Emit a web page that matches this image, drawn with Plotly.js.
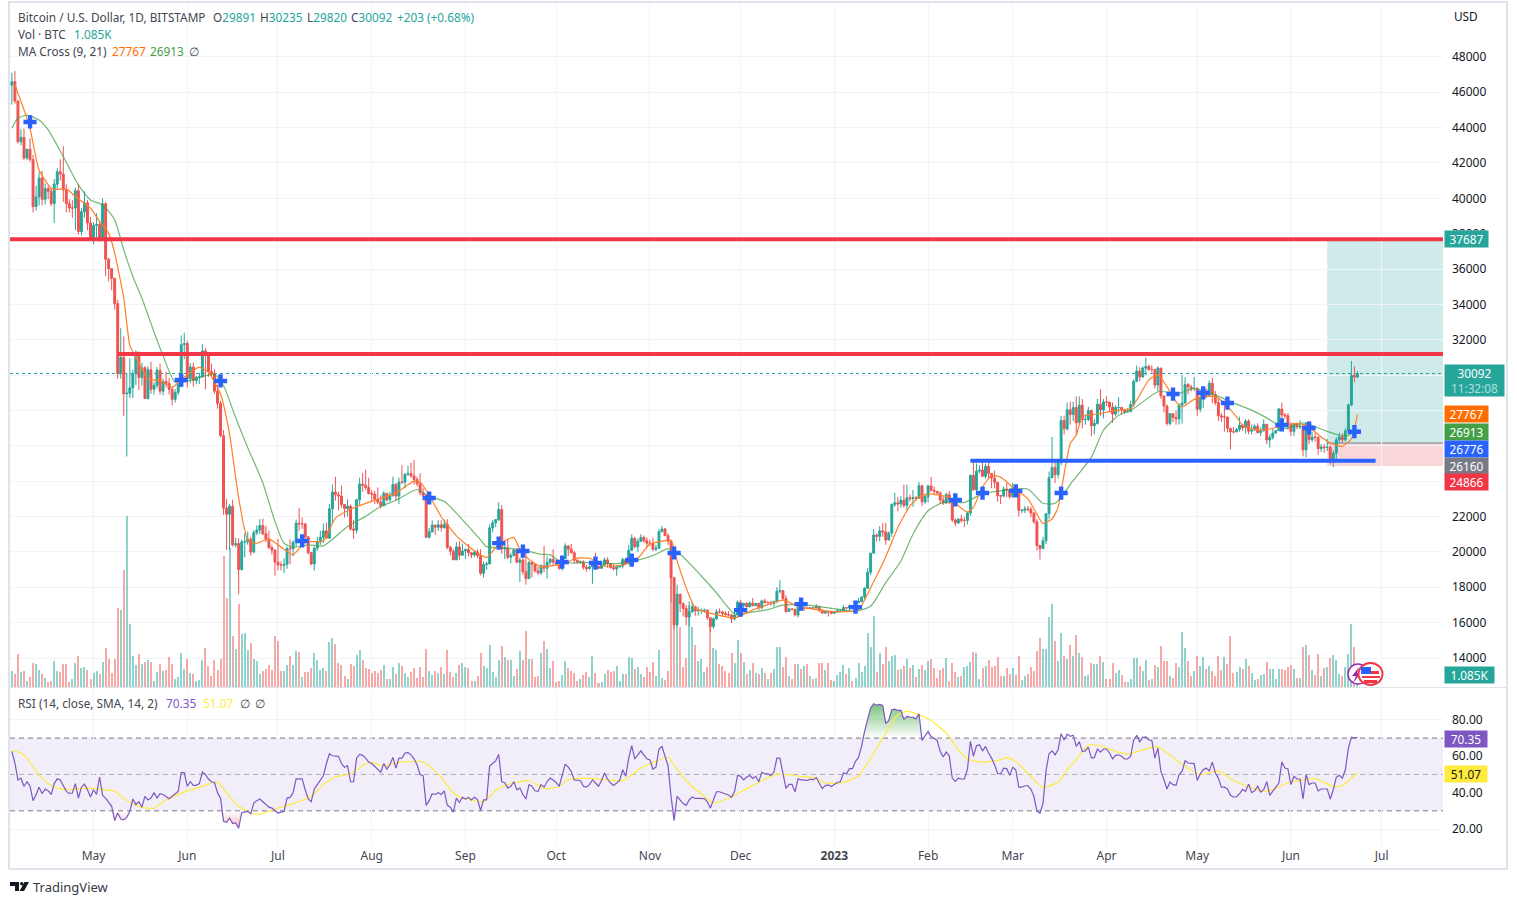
<!DOCTYPE html>
<html><head><meta charset="utf-8">
<script src="https://cdn.plot.ly/plotly-3.0.1.min.js"></script>
<style>html,body{margin:0;padding:0;background:#fff}#c{width:1517px;height:905px}</style></head>
<body><div id="c"></div>
<script>
const startDay = Date.UTC(2022,3,4);
const firstOpen = 46400;
const closes = [
46600,45500,43200,43450,42280,42780,42200,39530,40080,41150,39940,40550,40400,39700,40800,41500,41370,40480,39700,39450,39450,40430,38120,39240,39740,38600,37640,
38470,38520,37730,39690,36550,36020,35470,34040,30080,31000,28940,28980,29280,30080,31300,29860,30420,28680,30300,29200,29430,30280,29090,29640,29540,29190,28630,29020,29450,31720,31790,
29800,30460,29690,29860,29900,31370,31130,30200,30100,29090,28400,26570,22480,22130,22580,20400,20470,19000,20560,20570,20720,19990,21090,21240,21490,21030,20730,20250,20100,19420,
19270,19240,19300,20200,20180,20550,21630,21590,21590,20850,19960,19320,20210,20570,20830,21190,20780,22440,23380,23230,23160,22680,22450,22580,21300,21230,22950,23840,23770,23640,23300,
23270,22980,22820,22610,23310,22950,23170,23810,23160,23950,23940,24400,24440,24300,24100,23850,23340,23210,20830,21140,21520,21400,21530,21370,21570,20260,20040,19550,20280,19810,20050,
20130,19950,19830,19990,19800,18790,19290,19320,21360,21650,21830,22400,20170,20230,19700,19800,20110,19420,19540,18880,18490,19400,19300,18920,18810,19220,19080,19410,19590,19420,
19310,19060,19630,20340,20160,19960,19530,19420,19440,19130,19060,19160,19380,19180,19070,19260,19550,19330,19120,19040,19160,19200,19570,19330,20090,20770,20290,20600,20820,20630,20490,
20480,20150,20210,21150,21300,20920,20600,18540,15880,17600,17070,16800,16320,16620,16900,16660,16690,16690,16700,16280,15780,16220,16610,16600,16520,16460,16430,16210,16430,17160,
16970,17090,16890,17110,16970,17090,16840,17230,17130,17130,17090,17200,17780,17810,17350,16630,16780,16740,16440,16900,16830,16830,16800,16840,16830,16920,16700,16540,16630,16600,16530,
16610,16670,16670,16850,16830,16950,16940,17120,17190,17440,17940,18850,19930,20950,20880,21190,21130,20670,21070,22680,22780,22710,22920,22630,23060,23010,23070,23030,23740,22830,23130,
23730,23490,23430,23330,22940,22760,23240,22960,21800,21630,21860,21780,21780,22200,24330,23520,24570,24630,24280,24840,24440,24180,23940,23190,23160,23560,23490,23130,
23630,23470,22350,22360,22430,22410,22200,21700,20360,20190,20630,22160,24200,24770,24370,25050,27430,26960,28040,27770,28170,27310,28300,27480,27490,28000,27140,27270,28350,28030,28480,
28470,28200,27800,28170,28170,28040,27920,27950,28340,29650,30230,29900,30400,30490,30320,30320,29440,30400,28820,28250,27270,27820,27600,27520,28310,28420,29470,29330,29240,29250,
28070,28680,29030,28850,29540,28900,28450,27700,27630,27630,26990,26800,26790,26930,27170,27030,27400,26830,26890,27110,26750,26850,27220,26330,26480,26720,26860,28080,27750,27700,27220,
26820,27250,27070,27120,25770,27240,26350,26500,26480,25850,25940,25900,25920,25120,25580,26340,26510,26340,26850,28310,29990,29891,30092];
const highs = [
47100,47200,45550,43900,43950,42800,43400,42450,40700,41500,41550,40850,40700,40600,41100,41700,42200,42950,40800,39950,39900,40600,40800,39450,40400,39900,38950,
38650,39150,38650,40000,39800,36650,36050,35500,34250,32650,32200,30100,30950,30300,31400,31300,30700,30500,30500,30750,29600,30450,30650,29800,30180,29830,29350,29200,29550,32250,32400,
31950,30670,30700,29950,30130,31750,31550,31300,30650,30350,29450,28550,26890,23000,22700,22950,20800,20770,20700,21050,21150,20860,21220,21500,21860,21880,21470,21200,20400,20150,
20750,19450,19650,20300,20700,20650,21830,22500,21950,21600,20900,20000,20300,20850,21200,21600,21650,22700,23800,24250,23400,23750,22650,22980,22680,21800,23000,24200,24450,24650,24200,
23500,23450,23650,23200,23450,23350,23400,24250,23900,24200,24900,24450,24880,25050,25200,24250,24450,23600,23200,21350,21780,21500,21800,21800,21820,21850,20350,20150,20550,20600,20470,
20200,20450,20000,20050,20150,20150,19450,19450,21550,21800,21850,22800,22650,20550,20700,19950,20180,20100,19680,19650,19950,19500,19500,19300,19150,19300,20350,19750,19650,20150,
19480,19400,19700,20480,20380,20450,20050,19600,19520,19520,19260,19220,19500,19950,19200,19420,19680,19700,19350,19300,19250,19250,19680,19600,20400,21000,20850,20750,21000,20930,20830,
20700,20800,20400,21300,21480,21350,21050,20700,18600,18150,17650,17150,17000,17200,17150,16950,16900,16800,16800,16750,16280,16300,16750,16800,16680,16650,16650,16500,16600,17250,
17300,17100,17150,17200,17400,17100,17130,17300,17350,17230,17250,17250,18000,18400,17850,17550,16800,16800,16800,17050,16900,16900,16850,16870,16900,17050,16950,16770,16650,16650,16620,
16630,16780,16770,17000,16880,17030,16960,17220,17400,17500,18000,19100,19950,21300,21050,21450,21630,21650,21150,22750,23350,23100,23150,23800,23800,23250,23500,23160,23950,23800,23300,
23800,24250,23700,23450,23430,23150,23350,23450,23020,21900,21900,22100,21980,22300,24380,25250,25000,24900,25150,25000,25250,24300,24600,23950,23200,23700,23900,23600,
23900,23800,23480,22420,22600,22600,22550,22250,21850,20350,20850,22200,24550,26500,25250,25200,27700,27700,28450,28500,28500,28800,28800,28650,27800,28200,28050,27500,28650,29200,28650,
28800,28500,28450,28300,28750,28200,28100,28150,28550,29750,30550,30450,30500,31000,30600,30550,30350,30480,30400,28750,28350,27850,27800,28000,28400,30000,29880,29550,29450,29900,
29300,28900,29250,29250,29700,29850,29100,28650,27850,28350,27650,27000,27050,27000,27650,27250,27500,27500,27200,27200,27280,27050,27500,27200,26650,26950,26900,28150,28450,27850,27850,
27330,27300,27320,27450,27150,27350,27400,26800,26750,26550,26100,26100,26400,26050,25750,26500,26750,26700,27000,28400,30800,30500,30235];
const lows = [
45300,45350,43100,43000,42150,42150,42050,39200,39300,39600,39600,39650,39950,39550,38600,40550,41000,39800,39200,39200,38900,38200,37950,37900,38900,38200,37600,
37400,37700,37550,37600,35600,35300,34800,33700,29800,29800,27700,25400,28700,28700,29450,29150,29400,28650,28620,28950,28900,29250,28900,28850,29300,28900,28300,28450,28850,29300,30900,
29300,29550,29350,29500,29500,29850,29200,29900,29950,28950,28100,26500,22100,20100,20100,20300,20250,17600,18950,19700,20400,19800,19950,20950,21000,20950,20550,20170,19850,18650,
18950,18950,18800,19050,19300,19750,20300,21200,21300,20650,19850,19250,18950,20050,20400,20500,20750,20750,21600,22900,22350,22500,21950,22000,21200,20750,21050,22600,23400,23500,23250,
22850,22700,22700,22450,22600,22850,22850,23150,22900,22700,23850,23600,24300,24200,23800,23700,23200,23100,20800,20750,21080,20950,21200,21150,21320,20150,19800,19550,19550,19550,19850,
19600,19750,19650,19700,19650,18680,18550,19000,19300,21100,21400,21750,19900,19600,19600,19350,19750,19350,18300,18700,18150,18500,18550,18850,18700,18700,18850,18500,19250,19200,
19200,19000,18950,19600,19750,19900,19350,19330,19330,19000,18880,19000,18200,19100,19050,19050,19180,19100,19050,18950,18650,19100,19080,19250,19300,20050,20200,20000,20550,20520,20250,
20350,20050,20050,20170,21100,20900,20400,17150,15650,15800,16600,16350,15850,15800,16550,16400,16400,16500,16550,16150,15500,15650,16150,16500,16350,16400,16350,15980,16120,16400,
16880,16800,16880,16880,16900,16920,16700,16750,17100,17100,16950,16900,17100,17650,17300,16550,16600,16700,16350,16300,16680,16650,16780,16800,16750,16800,16600,16500,16500,16350,16480,
16500,16550,16610,16650,16750,16680,16900,16900,17130,17150,17300,17900,18700,19950,20600,20600,20850,20400,20650,20850,22550,22300,22500,22500,22350,22850,22550,22900,23000,22600,22700,
22800,23400,23200,23250,22750,22650,22750,22700,21700,21450,21600,21650,21400,21550,22050,23450,23350,24450,24250,24150,24150,23600,23600,22850,22700,23100,23100,23000,
23050,23250,22000,22200,22200,22300,21950,21600,20080,19570,20250,20450,21850,24200,23900,24150,24900,26650,26850,27200,27400,26650,27200,27000,27200,27400,26550,26650,27200,27700,27550,
28250,27900,27300,27700,27850,27750,27800,27850,27900,28200,29600,29650,29850,30000,30250,30150,29250,29100,28650,27900,27150,27150,27350,27200,27200,27250,28400,28900,29080,29100,
27700,27900,28150,28700,28850,28400,28300,27400,27350,26800,26750,25800,26700,26850,26800,26850,26700,26650,26650,26850,26700,26550,26800,26100,25900,26350,26700,26850,27550,27550,26900,
26550,26550,26950,26950,25400,25350,26100,26200,26250,25500,25650,25600,25700,24950,24800,25200,26150,26150,26250,26650,28250,29600,29820];
const volumeK = [
4.8,4.0,10.0,4.6,4.8,1.8,3.1,7.3,7.0,5.2,4.0,2.7,1.6,1.8,7.9,4.9,4.6,7.0,7.0,1.5,2.5,7.3,9.4,5.8,6.1,5.2,2.5,
4.3,4.9,4.0,7.6,11.8,8.5,4.3,8.5,23.8,23.2,35.1,51.3,19.0,9.4,6.7,10.0,7.0,7.6,8.2,7.6,1.8,4.6,7.0,4.9,5.2,9.1,7.0,2.5,3.1,10.3,5.5,
8.5,4.3,4.0,1.8,2.2,8.2,11.8,6.4,3.4,8.2,5.2,8.5,39.3,26.7,41.7,15.3,11.5,24.9,16.0,16.3,11.2,13.3,8.5,7.9,4.0,4.9,5.5,6.7,5.2,15.4,
13.9,4.9,4.9,6.7,9.4,6.7,10.9,10.6,3.1,4.6,4.6,5.8,10.3,8.2,5.2,5.8,4.9,13.6,14.8,13.0,7.3,6.7,3.4,2.5,7.0,6.4,9.7,11.2,8.2,5.8,5.5,
4.3,4.9,4.3,5.2,6.7,2.5,2.5,6.1,4.0,7.3,6.4,4.3,3.1,4.6,5.8,2.8,6.1,3.1,11.5,4.9,3.7,4.9,4.3,6.1,4.0,11.2,4.6,3.1,4.3,6.7,7.3,
6.1,5.8,1.8,1.8,3.4,10.3,6.4,5.8,12.7,4.6,3.1,8.2,12.4,9.1,8.2,8.2,3.4,5.5,10.9,8.2,16.9,8.5,8.5,3.1,3.4,10.3,13.9,11.5,5.8,7.9,
1.6,1.9,3.7,7.9,5.8,4.9,4.3,1.9,2.5,3.7,4.6,3.1,9.4,4.3,1.3,1.6,4.0,5.2,4.6,4.9,6.4,1.9,4.0,4.0,9.1,8.8,5.5,6.1,4.0,3.1,6.1,
4.6,7.6,3.4,11.2,2.8,2.2,4.9,33.0,33.0,18.6,17.9,6.0,8.8,24.5,17.9,12.7,7.9,8.5,4.6,6.1,17.9,11.6,11.0,7.0,6.4,4.9,4.3,10.3,7.3,14.2,
10.3,7.6,4.0,5.2,7.3,4.3,4.0,5.8,4.3,2.5,4.3,5.5,12.1,12.1,6.1,9.1,3.4,2.5,7.0,7.0,5.5,6.4,7.0,3.4,2.5,2.8,7.3,7.3,5.2,7.3,2.2,
1.9,3.7,4.6,6.7,4.0,5.8,1.9,2.8,7.3,4.6,6.4,16.3,12.1,21.4,4.6,10.3,7.0,12.1,7.9,9.4,9.7,5.2,5.5,6.4,8.5,5.8,6.7,3.1,5.5,6.7,5.2,
7.9,8.5,5.8,2.8,5.2,5.8,8.8,1.9,7.3,4.6,3.1,3.4,6.1,6.4,7.6,10.6,10.3,2.5,5.8,6.4,8.2,6.1,6.4,9.1,3.4,3.4,5.8,4.0,
5.8,3.7,9.4,2.2,3.4,4.0,6.1,4.9,10.9,14.8,11.5,11.5,21.1,25.0,13.9,7.9,16.3,9.4,8.5,12.7,9.4,15.7,10.3,9.1,3.4,3.7,7.3,7.0,7.0,9.4,7.6,
2.5,2.5,7.3,4.3,5.2,3.7,1.6,1.6,2.5,8.8,8.8,6.4,4.9,8.2,2.2,2.5,6.7,6.1,12.4,7.9,7.9,3.4,2.8,7.3,6.1,16.6,11.8,7.9,3.4,4.9,
9.4,6.4,9.1,5.5,6.4,4.9,3.4,9.4,5.2,9.1,7.0,15.4,4.3,4.6,6.1,5.5,8.5,6.4,4.3,2.2,2.5,3.7,4.0,7.6,5.5,5.5,2.5,5.5,5.5,5.2,6.1,
6.7,5.5,2.8,2.8,12.1,12.7,9.7,5.2,3.7,10.0,3.4,5.8,6.1,8.8,9.7,8.2,4.0,3.4,6.1,10.0,19.0,12.1,1.085];
const rsi = [
62.7,56.3,47,48,43.5,46,43.5,35.6,39,43,39.5,42,41,39,45,47.6,47,43.5,40.7,39.6,39.8,45,37,43,44.7,41.6,37.6,
41.6,39,48.6,38.5,37,34.6,32.5,24.6,28.8,25.5,25,26.4,29.7,36.5,33.4,35,32,38,36,37,40,37,39.4,39,38,36.7,38,39.5,40.7,51,51,
43.5,46,44,44,45,51.3,50,47.5,46,45.6,40,37,24.2,23.7,26,23,23.3,20.5,29,29.3,29.7,28.4,34.3,35.6,36.5,35,33.4,32,31.5,30.3,
28.8,29.3,29.7,37,37.4,40,47.6,47.6,47.6,41.6,36.5,35,42,44.4,47,49.3,55.9,61.4,60.3,60,60,56,54,54.8,46,46,59,61,60.5,59,56.8,
56,54.4,53,51.3,56,53,55.3,59.4,53.5,59,59,61.8,62,60.8,58.6,55.3,50,49.3,33,35.6,39.4,39,40,39,41,33,32,29.3,37,34.6,37.4,
36.5,37.4,36,37.6,36,30.3,36,36,54.8,56,57.5,61,46,45.5,42.5,43.5,46,41.6,42.5,39,36.5,44.4,43.5,41,40.7,44.4,43,46,48,47,
45.6,43.5,50,55.7,54,51.6,47,47,46.7,43.5,43,44.4,47,45.3,43.5,46.7,50.8,47.5,45.3,44,45.3,46.7,52.6,49,59,65.8,58.5,60.8,63,60.8,58.6,
58,53,54,64,65.4,60,54.8,38,24.6,38,35.7,34,33,36,37.6,36.8,36.8,36.8,36.7,35,31.5,36,40.5,40.5,40,39.4,38.7,37.4,40.7,49.5,
49,47,48.6,49.4,47.8,49,46,51.2,50.3,50.3,49.4,51.2,59,59,51.2,42.4,44.6,44.6,40.5,47.6,47,46.7,46.7,47.4,47,48.3,45.2,42.3,43.9,44.3,43.4,
44.4,45.6,46,50.8,50.4,53.2,53.2,57.2,59.4,65.4,73.7,81,86.5,88.9,88.1,88.5,87.9,78,79.7,85.6,85.9,85.2,85.2,80.4,81.9,81.5,81.4,80.6,83.4,68.7,70.9,
73.7,70.9,69.6,68.7,62.7,59.6,62.3,60.3,48,46.2,48,47.5,47.5,52.6,68.2,60,65.8,66.3,63,65.4,61.8,59,55.3,50.4,50.4,53.5,53.2,49.5,
54,52.6,43,43,43.8,43.8,42,38,29.7,28.8,34,52,61.4,63,60.8,63.6,72.4,69,72.2,71,71.6,65.4,68,62.7,63,65,59,59.4,64,62.3,64,
64,61.8,58.6,60.5,60.8,60,58.5,58.5,60,69,71.5,68,70.4,70.7,69,68.7,59,64.5,51.7,47,42,45.8,44.4,44,50,51.7,57.5,56.3,56,56,
46.7,50.2,52.6,53.5,52,56.8,50.8,48,43,43,42,38.5,37.6,37.6,39.4,41.8,40.7,44.7,40,41,43.5,40.3,41.6,46,38.5,40.7,43.5,45.3,56.8,53.5,53,
44.4,49,47.5,47.5,36.5,50,44.4,45.3,45.3,41,42,42,42,36.5,41.6,48.4,49.5,48,52.6,64.5,70.5,70,70.35];
const rsiMaDay = [0,3,5,8,10,14,19,24,29,34,37,40,43,47,51,58,62,68,71,75,79,82,88,92,99,103,107,112,118,123,128,136,142,146,150,156,161,166,171,176,181,184,189,197,202,208,213,217,219,224,229,232,238,245,253,261,266,269,275,280,284,288,293,296,300,304,309,313,316,321,327,329,332,337,341,346,349,352,356,360,365,369,374,379,383,388,393,399,404,413,416,422,431,437,440,445];
const rsiMaVal = [63.2,61.8,59,51.7,48,43,41.6,42.5,42,40.7,37,33.9,31.9,31.5,36,41,42.9,45.8,39.8,32.5,28.8,28.2,31.5,33.4,38,44.4,48.6,50.4,56.6,54.8,56.6,56.8,48.6,39.8,36.7,35.2,42.5,45.3,46.7,42.3,43.4,47.1,48,47.1,46.6,53.5,57.2,59.6,55,44.9,38,34.3,37.6,44,50.2,48.9,48,45.3,45.6,49.3,59,70,82.8,84.7,82.8,79.7,72.7,63.6,58.5,56.8,58.1,59.4,57.2,48.9,42.9,45.8,52.6,58.1,66,65.8,62.7,61.2,63.6,65.1,60.8,54.4,49.9,52,46.7,41,41,45.3,47.7,43.4,43.8,51.07];
const ma21Day = [0,2,5,9,12,17,22,26,30,34,37,40,43,47,50,54,59,62,67,70,74,78,83,87,90,93,98,103,111,117,122,127,134,138,143,148,155,157,164,168,175,178,182,191,200,208,213,217,221,228,233,239,243,250,255,263,274,279,284,289,294,298,303,308,315,321,329,336,341,345,351,357,361,366,371,379,386,391,398,405,410,415,421,427,434,439,442,445];
const ma21Val = [43960,44530,44700,44430,43870,42360,40760,39910,39630,38780,37080,35580,34350,32440,31100,29590,29700,29880,30030,29400,27600,25900,23900,21720,20490,20260,20400,20340,21440,22010,22580,22920,23530,23150,22860,22010,20680,20300,20200,20150,19870,19830,19400,19400,19340,19580,19870,20190,19870,18640,17690,16500,16550,16740,16990,16990,16740,16640,16930,18260,19490,21000,22330,22800,22800,23280,23500,23560,22750,22750,24040,25360,26880,27730,28110,29060,28970,29250,28870,28360,28020,27580,26980,27300,26880,26600,26600,26913];
const ma9Day = [1,4,6,9,13,15,18,21,26,29,32,34,37,39,41,45,49,53,57,62,65,69,72,75,78,81,85,91,93,97,103,107,113,119,127,133,135,138,142,147,153,157,161,166,168,171,175,180,184,186,191,196,202,207,211,218,220,223,226,233,239,244,250,255,260,266,274,280,284,289,293,297,300,303,310,313,316,318,321,324,327,331,336,339,341,344,346,348,350,352,354,360,366,370,373,376,379,382,385,387,391,394,398,401,405,407,411,415,419,424,428,433,436,440,443,445];
const ma9Val = [46410,45000,43960,41600,40570,40510,40530,40100,39440,38690,38030,36900,34350,31680,31010,29780,29690,29310,29880,30450,30160,28930,26650,23050,20680,20490,20740,20020,19830,20550,20620,21910,22480,22860,23340,24000,23950,23200,21990,20910,20060,19680,20440,20820,20150,19580,19150,19260,19400,19640,19640,19200,19260,19640,20440,20630,19490,17970,16830,16450,16260,16640,17020,17270,16930,16740,16610,16740,17970,19730,21380,22600,23090,23280,23090,22620,22240,22520,23660,24320,24230,23660,23000,22140,21610,21860,22520,24420,26120,26600,27640,27830,28020,28110,28870,29730,30010,29350,28490,28210,28630,28780,28780,28400,27640,27170,26920,26920,27070,27260,27170,26500,26160,25970,26400,27767];
const crossDay = [6,56,69,96,138,161,169,182,193,205,219,241,261,279,312,321,332,347,384,394,402,420,429,444];
const crossPrice = [44320,29720,29670,20620,23050,20500,20050,19430,19370,19540,19940,16710,17050,16880,22940,23330,23450,23330,28930,29000,28420,27180,27010,26800];
const resistanceUpper = 37687, resistanceLower = 31200, supportLevel = 25150;
const entryPrice = 26160, targetPrice = 37687, stopPrice = 24866, lastPrice = 30092;
const monthTicks = ['2022-05-01','2022-06-01','2022-07-01','2022-08-01','2022-09-01','2022-10-01','2022-11-01','2022-12-01','2023-01-01','2023-02-01','2023-03-01','2023-04-01','2023-05-01','2023-06-01','2023-07-01'];
const monthLabels = ['May','Jun','Jul','Aug','Sep','Oct','Nov','Dec','<b>2023</b>','Feb','Mar','Apr','May','Jun','Jul'];
const priceTicks = [14000,16000,18000,20000,22000,24000,26000,28000,30000,32000,34000,36000,38000,40000,42000,44000,46000,48000];
const priceTicksHiddenByTags = [24000,26000,28000,30000];
const rsiTicks = [20,40,60,80];

const W=1517,H=905;
const px=x=>x/W, py=y=>1-y/H;
const dayDate=d=>new Date(startDay+d*864e5).toISOString().slice(0,10);
const dates=closes.map((_,i)=>dayDate(i));
const opens=closes.map((c,i)=>i?closes[i-1]:firstOpen);
const UP='#26a69a',DOWN='#ef5350';
const FONT='"Noto Sans",sans-serif', TXT='#434651';

const traces=[
 {type:'bar',x:dates,y:volumeK,yaxis:'y',xaxis:'x',width:2*864e5/3.0235,
  marker:{color:closes.map((c,i)=>c>=opens[i]?'rgba(38,166,154,.5)':'rgba(239,83,80,.5)'),line:{width:0}},hoverinfo:'skip'},
 {type:'candlestick',x:dates,open:opens,high:highs.map((h,i)=>Math.max(h,opens[i],closes[i])),low:lows.map((l,i)=>Math.min(l,opens[i],closes[i])),close:closes,yaxis:'y2',xaxis:'x',whiskerwidth:0,
  increasing:{line:{color:UP,width:1},fillcolor:UP},decreasing:{line:{color:DOWN,width:1},fillcolor:DOWN},hoverinfo:'skip'},
 {type:'scatter',mode:'lines',x:ma21Day.map(dayDate),y:ma21Val,yaxis:'y2',xaxis:'x',line:{color:'rgba(67,160,71,.75)',width:1.2,shape:'spline',smoothing:.6},hoverinfo:'skip'},
 {type:'scatter',mode:'lines',x:ma9Day.map(dayDate),y:ma9Val,yaxis:'y2',xaxis:'x',line:{color:'#ff7f27',width:1.2,shape:'spline',smoothing:.5},hoverinfo:'skip'},
 {type:'scatter',mode:'markers',x:crossDay.map(dayDate),y:crossPrice,yaxis:'y2',xaxis:'x',marker:{symbol:'cross',size:11,color:'#2962ff',line:{width:0}},hoverinfo:'skip'},
 {type:'scatter',mode:'lines',x:dates,y:rsi.map(()=>70),yaxis:'y3',xaxis:'x',line:{width:0},hoverinfo:'skip'},
 {type:'scatter',mode:'lines',x:dates,y:rsi.map(v=>Math.max(v,70)),yaxis:'y3',xaxis:'x',line:{width:0},fill:'tonexty',
  fillgradient:{type:'vertical',colorscale:[[0,'rgba(76,175,80,0)'],[1,'rgba(76,175,80,.75)']]},hoverinfo:'skip'},
 {type:'scatter',mode:'lines',x:dates,y:rsi.map(()=>30),yaxis:'y3',xaxis:'x',line:{width:0},hoverinfo:'skip'},
 {type:'scatter',mode:'lines',x:dates,y:rsi.map(v=>Math.min(v,30)),yaxis:'y3',xaxis:'x',line:{width:0},fill:'tonexty',
  fillgradient:{type:'vertical',colorscale:[[0,'rgba(242,54,69,.35)'],[1,'rgba(242,54,69,0)']]},hoverinfo:'skip'},
 {type:'scatter',mode:'lines',x:rsiMaDay.map(dayDate),y:rsiMaVal,yaxis:'y3',xaxis:'x',line:{color:'#ffeb3b',width:1.2,shape:'spline',smoothing:.6},hoverinfo:'skip'},
 {type:'scatter',mode:'lines',x:dates,y:rsi,yaxis:'y3',xaxis:'x',line:{color:'#7e57c2',width:1.2},hoverinfo:'skip'}
];

const txt=(t,x,y,c,extra)=>Object.assign({text:t,xref:'paper',yref:'paper',x:px(x-1),y:py(y),xanchor:'left',yanchor:'middle',showarrow:false,font:{family:FONT,size:11.8,color:c||TXT},borderpad:0},extra||{});
const tag=(t,y,bg,w,h,c)=>txt(t,1445,y,c||'#fff',{bgcolor:bg,width:w,height:h||16,align:'center'});
const annotations=[
 txt('Bitcoin / U.S. Dollar, 1D, BITSTAMP',18,17),
 txt('O<span style="color:#26a69a">29891</span>',213,17),
 txt('H<span style="color:#26a69a">30235</span>',260,17),
 txt('L<span style="color:#26a69a">29820</span>',307,17),
 txt('C<span style="color:#26a69a">30092</span>',351,17),
 txt('+203 (+0.68%)',397,17,UP),
 txt('Vol · BTC',18,34),
 txt('1.085K',74,34,UP),
 txt('MA Cross (9, 21)',18,51),
 txt('27767',112,51,'#ff6d00'),
 txt('26913',150,51,'#43a047'),
 txt('∅',189,51),
 txt('RSI (14, close, SMA, 14, 2)',18,703),
 txt('70.35',166,703,'#7e57c2'),
 txt('51.07',203,703,'#ffeb3b'),
 txt('∅',240,703),
 txt('∅',255,703),
 txt('USD',1454,16,'#131722'),
 tag('37687',239,'#26a69a',43),
 tag('30092<br><span style="color:#b2dfdb">11:32:08</span>',380.5,'#26a69a',59,31),
 tag('27767',414,'#ff6d00',43),
 tag('26913',432,'#43a047',43),
 tag('26776',449,'#2962ff',43),
 tag('26160',466,'#787b86',43),
 tag('24866',482,'#f23645',43),
 tag('1.085K',675,'#26a69a',49),
 tag('70.35',739,'#7e57c2',42),
 tag('51.07',774,'#ffeb3b',42,16,'#131722'),
 txt('TradingView',33,887,'#363a45',{font:{family:FONT,size:13,color:'#363a45'}})
];

const R=(x0,y0,x1,y1,o)=>Object.assign({type:'rect',xref:'paper',yref:'paper',x0:px(x0),x1:px(x1),y0:py(y0),y1:py(y1),line:{width:0},layer:'above'},o||{});
const poly=(pts,c)=>({type:'path',xref:'paper',yref:'paper',path:'M'+pts.map(p=>px(p[0])+' '+py(p[1])).join('L')+'Z',fillcolor:c,line:{width:0},layer:'above'});
const leftEdge='2022-04-03 09:00', endDay='2023-07-21 07:00', boxStart=dayDate(435), rightEdge=endDay;
const lvl=(y,x0,x1,c,w,o)=>Object.assign({type:'line',xref:'x',yref:'y2',x0,x1,y0:y,y1:y,line:{color:c,width:w},layer:'above'},o||{});
const shapes=[
 {type:'rect',xref:'x',yref:'y2',x0:boxStart,x1:rightEdge,y0:entryPrice,y1:targetPrice,fillcolor:'rgba(38,166,154,.22)',line:{width:0},layer:'below'},
 {type:'rect',xref:'x',yref:'y2',x0:boxStart,x1:rightEdge,y0:stopPrice,y1:entryPrice,fillcolor:'rgba(242,54,69,.2)',line:{width:0},layer:'below'},
 lvl(entryPrice,boxStart,rightEdge,'#787b86',1,{layer:'below'}),
 lvl(lastPrice,leftEdge,rightEdge,'#26a69a',1,{line:{color:'#26a69a',width:1,dash:'dot'},layer:'below'}),
 lvl(resistanceUpper,leftEdge,rightEdge,'#f23645',4),
 lvl(resistanceLower,dayDate(35),rightEdge,'#f23645',4),
 lvl(supportLevel,dayDate(317),dayDate(451),'#2962ff',4),
 {type:'rect',xref:'x',yref:'y3',x0:leftEdge,x1:rightEdge,y0:30,y1:70,fillcolor:'rgba(126,87,194,.1)',line:{width:0},layer:'below'},
 {type:'line',xref:'x',yref:'y3',x0:leftEdge,x1:rightEdge,y0:70,y1:70,line:{color:'#787b86',width:1,dash:'5px,4px'},layer:'below'},
 {type:'line',xref:'x',yref:'y3',x0:leftEdge,x1:rightEdge,y0:50,y1:50,line:{color:'rgba(120,123,134,.55)',width:1,dash:'5px,4px'},layer:'below'},
 {type:'line',xref:'x',yref:'y3',x0:leftEdge,x1:rightEdge,y0:30,y1:30,line:{color:'#787b86',width:1,dash:'5px,4px'},layer:'below'},
 R(9,2,1507,869,{line:{color:'#e0e3eb',width:2},fillcolor:'rgba(0,0,0,0)',layer:'below'}),
 {type:'line',xref:'paper',yref:'paper',x0:px(10),x1:px(1507),y0:py(687.5),y1:py(687.5),line:{color:'#e0e3eb',width:1},layer:'above'},
 {type:'circle',xref:'paper',yref:'paper',x0:px(1348),x1:px(1368),y0:py(684),y1:py(664),fillcolor:'#fff',line:{color:'#9c27b0',width:1.5},layer:'above'},
 poly([[1359,667],[1352,676],[1356,676],[1353,683],[1361,673],[1357,673]],'#9c27b0'),
 {type:'circle',xref:'paper',yref:'paper',x0:px(1358.5),x1:px(1382.5),y0:py(685),y1:py(663),fillcolor:'#fff',line:{color:'#f23645',width:2},layer:'above'},
 R(1361,667,1371,674,{fillcolor:'#2962ff'}),
 R(1371,671,1379,674,{fillcolor:'#f23645'}),
 R(1362,676,1380,678,{fillcolor:'#f23645'}),
 R(1364,680,1377,683,{fillcolor:'#f23645'}),
 poly([[10,882],[19,882],[19,891],[15,891],[15,886],[10,886]],'#131722'),
 {type:'circle',xref:'paper',yref:'paper',x0:px(20),x1:px(23.5),y0:py(885.5),y1:py(882),fillcolor:'#131722',line:{width:0},layer:'above'},
 poly([[24.5,882],[29,882],[24,891],[19.5,891]],'#131722')
];

const layout={
 width:W,height:H,margin:{l:0,r:0,t:0,b:0},paper_bgcolor:'#fff',plot_bgcolor:'#fff',showlegend:false,
 font:{family:FONT,size:12,color:'#131722'},bargap:0,boxgap:.1,hovermode:false,dragmode:false,
 xaxis:{type:'date',domain:[px(10),px(1443)],anchor:'y3',range:[leftEdge,endDay],tickmode:'array',tickvals:monthTicks,ticktext:monthLabels,
   showgrid:true,gridcolor:'#f0f3fa',gridwidth:1,ticks:'',tickfont:{family:FONT,size:12,color:'#434651'},showline:false,zeroline:false,rangeslider:{visible:false},ticklabelstandoff:1},
 yaxis:{domain:[py(687),py(4)],range:[0,204.9],visible:false,showgrid:false,fixedrange:true},
 yaxis2:{domain:[py(687),py(4)],overlaying:'y',side:'right',anchor:'x',range:[12360,50990],tickmode:'array',tickvals:priceTicks,
   ticktext:priceTicks.map(v=>priceTicksHiddenByTags.includes(v)?'':String(v)),
   showgrid:true,gridcolor:'#f0f3fa',zeroline:false,showline:false,ticks:'',tickfont:{family:FONT,size:12,color:'#131722'},ticklabelstandoff:8},
 yaxis3:{domain:[py(846),py(689)],side:'right',anchor:'x',range:[10.66,97],tickmode:'array',tickvals:rsiTicks,ticktext:rsiTicks.map(v=>v.toFixed(2)),
   showgrid:true,gridcolor:'#f0f3fa',zeroline:false,showline:false,ticks:'',tickfont:{family:FONT,size:12,color:'#131722'},ticklabelstandoff:8},
 shapes,annotations
};
Plotly.newPlot('c',traces,layout,{displayModeBar:false,staticPlot:true});
</script></body></html>
